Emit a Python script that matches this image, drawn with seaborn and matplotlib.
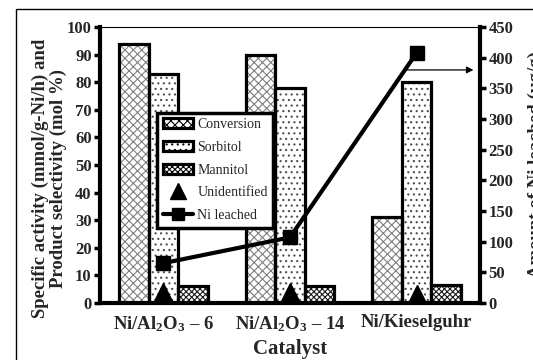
import matplotlib
matplotlib.use("Agg")
import matplotlib.pyplot as plt
import seaborn as sns
import pandas as pd
from matplotlib.patches import Rectangle
from matplotlib.lines import Line2D

# data
catalysts = ["Ni/Al$_2$O$_3$ – 6", "Ni/Al$_2$O$_3$ – 14", "Ni/Kieselguhr"]
conversion = [94, 90, 31]
sorbitol = [83, 78, 80]
mannitol = [6, 6, 6.5]
unidentified = [3.5, 3.5, 3]
ni_leached = [65, 107, 408]

sns.set_theme(style="white")
plt.rcParams["font.family"] = ["Liberation Serif", "DejaVu Serif"]
plt.rcParams["mathtext.fontset"] = "custom"
plt.rcParams["mathtext.rm"] = "Liberation Serif:bold"
plt.rcParams["mathtext.default"] = "rm"
plt.rcParams["hatch.linewidth"] = 0.8

df = pd.DataFrame({
    "Catalyst": catalysts * 3,
    "value": conversion + sorbitol + mannitol,
    "series": ["Conversion"] * 3 + ["Sorbitol"] * 3 + ["Mannitol"] * 3,
})

fig = plt.figure(figsize=(5.33, 3.6), dpi=100)
ax = fig.add_axes([0.1876, 0.1583, 0.713, 0.7667])

sns.barplot(data=df, x="Catalyst", y="value", hue="series", order=catalysts,
            hue_order=["Conversion", "Sorbitol", "Mannitol"], width=0.7,
            palette=["white"] * 3, legend=False, ax=ax)

hatches = {"Conversion": ("xxxx", "0.5"), "Sorbitol": ("...", "0.3"), "Mannitol": ("xxxxxx", "0.1")}
names = ["Conversion"] * 3 + ["Sorbitol"] * 3 + ["Mannitol"] * 3
for p, nm in zip(list(ax.patches)[:9], names):
    h, c = hatches[nm]
    p.set_hatch(h)
    p.set_edgecolor(c)
    p.set_linewidth(0)
    ax.add_patch(Rectangle(p.get_xy(), p.get_width(), p.get_height(), fill=False,
                           edgecolor="black", linewidth=2.3, zorder=3))

x = range(len(catalysts))
ax.plot(list(x), unidentified, linestyle="none", marker="^", markersize=15,
        color="black", zorder=5)

ax.set_xlim(-0.5, 2.5)
ax.set_ylim(0, 100)
ax.set_yticks(range(0, 101, 10))
ax.set_xlabel("Catalyst", fontsize=15, fontweight="bold", labelpad=4)
ax.set_ylabel("Specific activity (mmol/g-Ni/h) and\nProduct selectivity (mol %)",
              fontsize=13.5, fontweight="bold", linespacing=1.05)
ax.yaxis.set_label_coords(-0.088, 0.45)
ax.tick_params(axis="x", which="major", length=0, labelsize=13.5, pad=8)
ax.set_xticks([-0.5, 0.5, 1.5, 2.5], minor=True)
ax.tick_params(axis="x", which="minor", length=4, width=2.5, direction="out", color="black")
ax.tick_params(axis="y", length=4, width=2.5, direction="out", labelsize=12, color="black", pad=2)
for lab in ax.get_xticklabels() + ax.get_yticklabels():
    lab.set_fontweight("bold")
for s in ["left", "bottom", "right"]:
    ax.spines[s].set_linewidth(3)
    ax.spines[s].set_color("black")
ax.spines["top"].set_linewidth(0.8)
ax.spines["top"].set_color("black")

ax2 = ax.twinx()
ax2.plot(list(x), ni_leached, color="black", linewidth=3, marker="s", markersize=10, zorder=6)
ax2.set_ylim(0, 450)
ax2.set_yticks(range(0, 451, 50))
ax2.tick_params(axis="y", length=4, width=2.5, direction="out", labelsize=12, color="black", pad=2)
for lab in ax2.get_yticklabels():
    lab.set_fontweight("bold")
for s in ax2.spines.values():
    s.set_visible(False)
ax2.set_ylabel("Amount of Ni leached (µg/g)", fontsize=13.5, fontweight="bold", labelpad=10)
ax2.annotate("", xy=(2.47, 380), xytext=(1.88, 380),
             arrowprops=dict(arrowstyle="-|>", color="black", lw=0.9, mutation_scale=10),
             annotation_clip=False)

handles = [
    Rectangle((0, 0), 1, 1, facecolor="white", edgecolor="black", hatch="xxxx", linewidth=2.3),
    Rectangle((0, 0), 1, 1, facecolor="white", edgecolor="black", hatch="...", linewidth=2.3),
    Rectangle((0, 0), 1, 1, facecolor="white", edgecolor="black", hatch="xxxxxx", linewidth=2.3),
    Line2D([], [], linestyle="none", marker="^", markersize=12, color="black"),
    Line2D([], [], color="black", linewidth=3, marker="s", markersize=9),
]
leg = ax2.legend(handles, ["Conversion", "Sorbitol", "Mannitol", "Unidentified", "Ni leached"],
                 loc="upper left", bbox_to_anchor=(0.15, 0.69), fontsize=10,
                 frameon=True, fancybox=False, framealpha=1, borderpad=0.4,
                 handlelength=2.2, labelspacing=0.7, handletextpad=0.3, borderaxespad=0)
leg.get_frame().set_edgecolor("black")
leg.get_frame().set_linewidth(2.5)

fig.patches.append(Rectangle((0.03, -0.1), 1.2, 1.075, transform=fig.transFigure,
                             fill=False, edgecolor="black", linewidth=1))

fig.savefig("out.png", dpi=100)
